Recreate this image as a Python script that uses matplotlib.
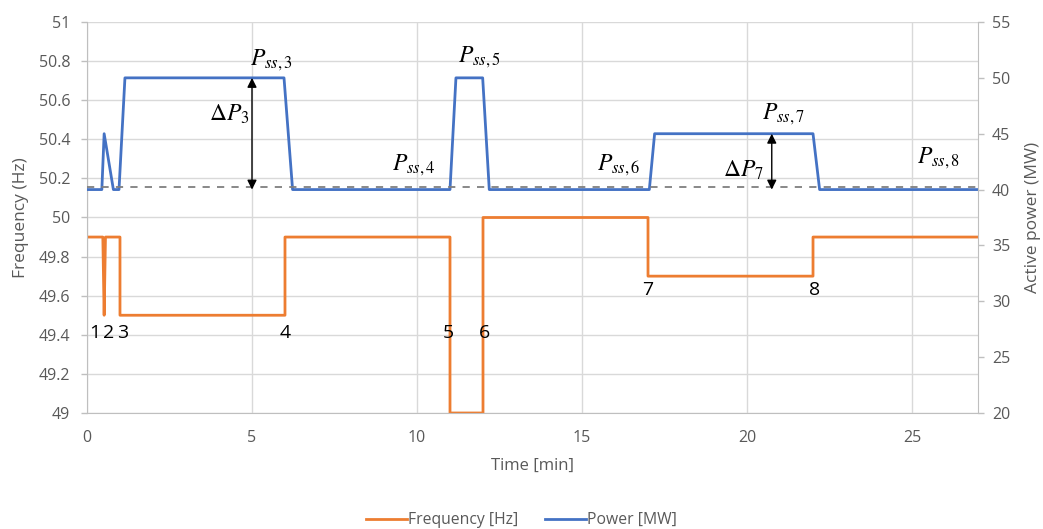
import matplotlib
matplotlib.use("Agg")
import matplotlib.pyplot as plt

# Frequency trace (time in min, Hz)
freq_t = [0, 0.48, 0.52, 0.56, 1.0, 1.0, 6.0, 6.0, 11.0, 11.0, 12.0, 12.0, 17.0, 17.0, 22.0, 22.0, 27]
freq_v = [49.9, 49.9, 49.5, 49.9, 49.9, 49.5, 49.5, 49.9, 49.9, 49.0, 49.0, 50.0, 50.0, 49.7, 49.7, 49.9, 49.9]

# Power trace (time in min, MW)
pow_t = [0, 0.45, 0.52, 0.8, 0.97, 1.15, 5.97, 6.23, 11.0, 11.18, 11.99, 12.19, 17.04, 17.2, 22.0, 22.2, 27]
pow_v = [40, 40, 45, 40, 40, 50, 50, 40, 40, 50, 50, 40, 40, 45, 45, 40, 40]

p_ref = 40.2  # dashed reference level

# event numbers (x, freq y)
event_labels = ["1", "2", "3", "4", "5", "6", "7", "8"]
event_x = [0.25, 0.66, 1.08, 6.0, 10.95, 12.05, 17.0, 22.05]
event_y = [49.41, 49.41, 49.41, 49.41, 49.41, 49.41, 49.63, 49.63]

# steady-state labels (x, MW y)
pss_labels = [r"$P_{ss,3}$", r"$P_{ss,4}$", r"$P_{ss,5}$", r"$P_{ss,6}$", r"$P_{ss,7}$", r"$P_{ss,8}$"]
pss_x = [5.6, 9.9, 11.9, 16.1, 21.1, 25.8]
pss_y = [51.6, 42.2, 51.8, 42.2, 46.7, 42.8]

# delta arrows: x, from, to, label, label x, label y
dp_x = [5.0, 20.75]
dp_lo = [40.0, 40.0]
dp_hi = [50.0, 45.0]
dp_labels = [r"$\Delta P_3$", r"$\Delta P_7$"]
dp_lx = [4.3, 19.9]
dp_ly = [46.7, 41.7]

orange = "#ED7D31"
blue = "#4472C4"
grid_c = "#D9D9D9"
txt_c = "#595959"

plt.rcParams["font.family"] = ["Open Sans", "DejaVu Sans"]
plt.rcParams["mathtext.fontset"] = "stix"

fig = plt.figure(figsize=(10.43, 5.29), dpi=100)
ax = fig.add_axes([0.0834, 0.2193, 0.8543, 0.7391])
ax2 = ax.twinx()

ax.set_xlim(0, 27)
ax.set_ylim(49, 51)
ax.set_yticks([49 + 0.2 * i for i in range(11)])
ax.set_yticklabels(["49", "49.2", "49.4", "49.6", "49.8", "50", "50.2", "50.4", "50.6", "50.8", "51"])
ax.set_xticks([0, 5, 10, 15, 20, 25])
ax2.set_ylim(20, 55)
ax2.set_yticks(range(20, 56, 5))

ax.grid(True, color=grid_c, lw=1)
ax.set_axisbelow(True)
for a in (ax, ax2):
    for s in a.spines.values():
        s.set_visible(False)
    a.tick_params(colors=txt_c, labelsize=11.5, length=4, width=1)
ax.spines["left"].set_visible(True)
ax.spines["left"].set_color("#BFBFBF")
ax.spines["bottom"].set_visible(True)
ax.spines["bottom"].set_color("#BFBFBF")
ax2.spines["right"].set_visible(True)
ax2.spines["right"].set_color("#BFBFBF")
ax.tick_params(axis="x", length=0, pad=12)
ax.tick_params(axis="y", color="#BFBFBF", pad=8)
ax2.tick_params(axis="y", color="#BFBFBF", pad=6)

l1, = ax.plot(freq_t, freq_v, color=orange, lw=2.0, label="Frequency [Hz]")
l2, = ax2.plot(pow_t, pow_v, color=blue, lw=2.0, label="Power [MW]")
ax2.axhline(p_ref, color="#7F7F7F", lw=1.3, ls=(0, (4, 4)))

ax.set_xlabel("Time [min]", color=txt_c, fontsize=12, labelpad=9)
ax.set_ylabel("Frequency (Hz)", color=txt_c, fontsize=12.5, labelpad=7)
ax2.set_ylabel("Active power (MW)", color=txt_c, fontsize=12.5, labelpad=11)

for lab, x, y in zip(event_labels, event_x, event_y):
    ax.text(x, y, lab, fontsize=14, ha="center", va="center", color="black")

for lab, x, y in zip(pss_labels, pss_x, pss_y):
    ax2.text(x, y, lab, fontsize=17, ha="center", va="center", color="black")

for x, lo, hi, lab, lx, ly in zip(dp_x, dp_lo, dp_hi, dp_labels, dp_lx, dp_ly):
    ax2.annotate("", xy=(x, hi), xytext=(x, lo),
                 arrowprops=dict(arrowstyle="<|-|>", color="black", lw=1, mutation_scale=14,
                                 shrinkA=0, shrinkB=0))
    ax2.text(lx, ly, lab, fontsize=17, ha="center", va="center", color="black")

fig.legend(handles=[l1, l2], loc="center", bbox_to_anchor=(0.5, 0.017), ncol=2,
           frameon=False, fontsize=11.3, labelcolor=txt_c, handlelength=2.6,
           handletextpad=0.1, columnspacing=1.7)

fig.savefig("out.png", dpi=100)
